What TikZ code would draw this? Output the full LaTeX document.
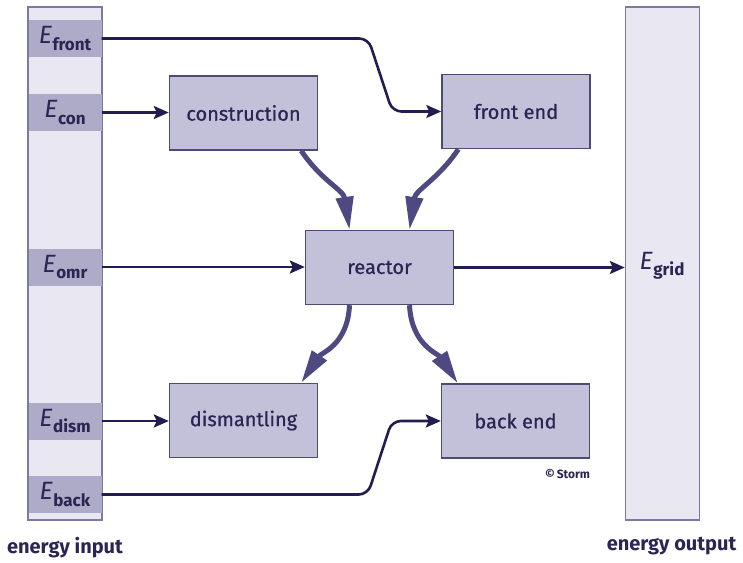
\documentclass[tikz,border=0pt]{standalone}
\usepackage{fontspec}
\setmainfont{Fira Sans}
\newfontfamily\medium{Fira Sans}[FakeBold=0.7]
\usetikzlibrary{positioning,arrows.meta}
\definecolor{kolonnefyll}{HTML}{E9E8F2}
\definecolor{kolonnekant}{HTML}{7D7AA2}
\definecolor{baand}{HTML}{ADABC8}
\definecolor{boksfyll}{HTML}{C3C1DA}
\definecolor{bokskant}{HTML}{4D4A76}
\definecolor{linje}{HTML}{221D50}
\definecolor{tykk}{HTML}{4E4981}
\definecolor{tekst}{HTML}{2A2553}
\newcommand{\boksfont}{\medium\fontsize{20}{24}\selectfont}
\newcommand{\Eledd}[1]{{\fontsize{25}{25}\selectfont\itshape E}\kern0.5pt\raisebox{-6.5pt}{\fontsize{17}{17}\selectfont\bfseries #1}}

\begin{document}
\begin{tikzpicture}[%
x=1pt,y=-1pt,
kolonne/.style={draw=kolonnekant,fill=kolonnefyll,line width=1.4pt,minimum width=74pt,minimum height=513pt,inner sep=0pt},
baandnode/.style={fill=baand,minimum width=73pt,minimum height=37pt,inner sep=0pt,text=tekst},
boks/.style={draw=bokskant,fill=boksfyll,line width=1.4pt,minimum width=148pt,minimum height=74pt,font=\boksfont,text=tekst},
tynnpil/.style={draw=linje,line width=2.6pt,-{Stealth[length=15pt,width=13pt,inset=3pt]}},
tykkpil/.style={draw=tykk,line width=5pt,-{Triangle[length=33pt,width=17pt]}},
etikett/.style={font=\fontsize{20}{23}\selectfont\bfseries,text=tekst}]
\useasboundingbox (0,0) rectangle (743,562);
% kolonnene
\node [kolonne] (inn) at (65,263.5) {};
\node [kolonne] (ut)  at (662.5,263.5) {};
\node [baandnode] (efront) at (65,38.5)  {\Eledd{front}};
\node [baandnode] (econ)   at (65,112.5) {\Eledd{con}};
\node [baandnode] (eomr)   at (65,267)   {\Eledd{omr}};
\node [baandnode] (edism)  at (65,421)   {\Eledd{dism}};
\node [baandnode] (eback)  at (65,494.5) {\Eledd{back}};
\node [text=tekst] (egrid) at (662,266) {\Eledd{grid}};
% boksene
\node [boks] (konstruksjon) at (243.5,113)   {construction};
\node [boks] (frontende)    at (516,111.5)   {front end};
\node [boks] (reaktor)      at (379.5,267.5) {reactor};
\node [boks] (demontering)  at (243.5,420.5) {dismantling};
\node [boks] (bakende)      at (515.5,421)   {back end};
\node [etikett] (inntekst) [below=13pt of inn] {energy input};
\node [etikett] (uttekst)  [below=13pt of ut,xshift=9pt] {energy output};
\node [font=\fontsize{12}{14}\selectfont\bfseries,text=tekst,inner sep=0pt,anchor=north east] (storm) at ([yshift=-10pt]bakende.south east) {\textcopyright\,Storm};
% tynne piler
\draw [tynnpil,rounded corners=9pt] (efront.east) -- ([xshift=-73pt]frontende.west |- efront.east) -- ([xshift=-49pt]frontende.west) -- (frontende.west);
\draw [tynnpil] (econ.east) -- (konstruksjon.west |- econ.east);
\draw [tynnpil] (eomr.east) -- (reaktor.west |- eomr.east);
\draw [tynnpil] (edism.east) -- (demontering.west |- edism.east);
\draw [tynnpil,rounded corners=9pt] (eback.east) -- ([xshift=-73pt]bakende.west |- eback.east) -- ([xshift=-49pt]bakende.west) -- (bakende.west);
\draw [tynnpil] (reaktor.east) -- (ut.west |- reaktor.east);
% tykke piler
\draw [tykkpil] ([xshift=-17pt]konstruksjon.south east) .. controls +(20,30) and +(-6,-40) .. ([xshift=-30pt]reaktor.north);
\draw [tykkpil] ([xshift=17pt]frontende.south west) .. controls +(-20,30) and +(6,-40) .. ([xshift=30pt]reaktor.north);
\draw [tykkpil] ([xshift=-30pt]reaktor.south) .. controls +(-2,40) and +(20,-30) .. ([xshift=-17pt]demontering.north east);
\draw [tykkpil] ([xshift=30pt]reaktor.south) .. controls +(2,40) and +(-20,-30) .. ([xshift=17pt]bakende.north west);
\end{tikzpicture}
\end{document}
